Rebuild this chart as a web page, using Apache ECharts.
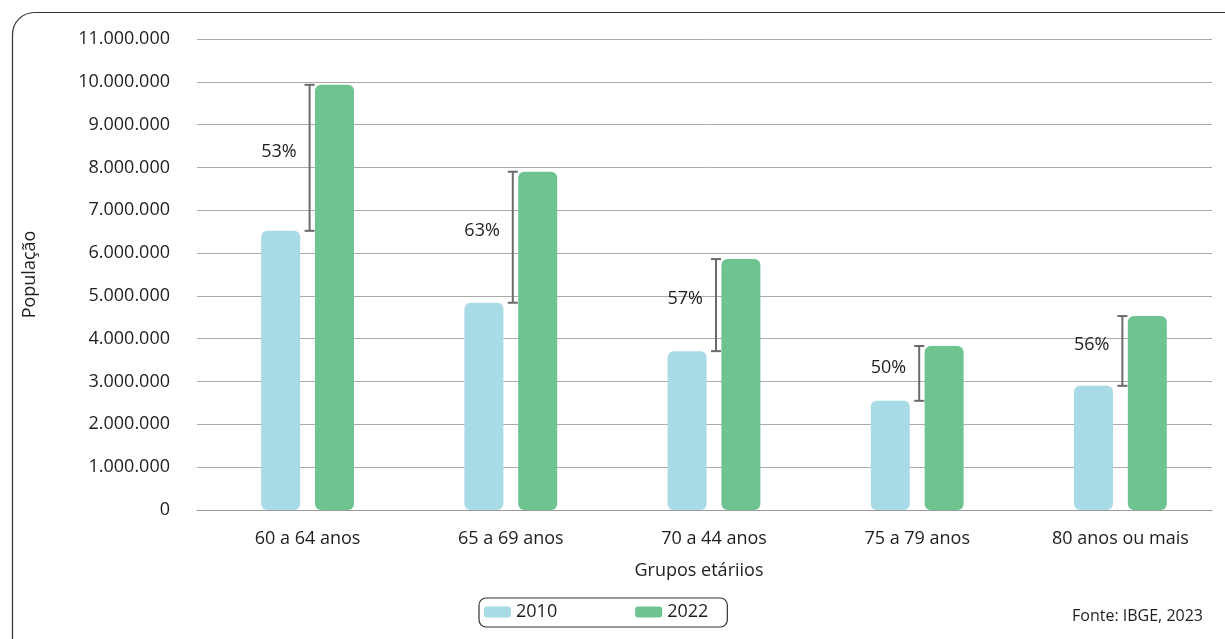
<!DOCTYPE html>
<html><head><meta charset="utf-8">
<script src="https://cdn.jsdelivr.net/npm/echarts@6/dist/echarts.min.js"></script>
<style>html,body{margin:0;padding:0;background:#fff}#c{width:1225px;height:639px}</style>
</head><body><div id="c"></div>
<script>
const categories = ['60 a 64 anos', '65 a 69 anos', '70 a 44 anos', '75 a 79 anos', '80 anos ou mais'];
const values2010 = [6520000, 4840000, 3710000, 2550000, 2900000];
const values2022 = [9930000, 7900000, 5860000, 3830000, 4530000];
const growthLabels = ['53%', '63%', '57%', '50%', '56%'];
const yTicks = { min: 0, max: 11000000, interval: 1000000 };

const FONT = '"Open Sans", sans-serif';
const TXT = '#1e1e1e';
const errData = categories.map((c, i) => [i, values2010[i], values2022[i], growthLabels[i]]);

const chart = echarts.init(document.getElementById('c'));
chart.setOption({
  animation: false,
  textStyle: { fontFamily: FONT, color: TXT },
  graphic: [{
    type: 'rect', left: 10, top: 10, silent: true,
    shape: { x: 0, y: 0, width: 1240, height: 680, r: 22 },
    style: { fill: 'none', stroke: '#333', lineWidth: 1.2 }
  }, {
    type: 'text', right: 22, top: 608,
    style: { text: 'Fonte: IBGE, 2023', font: '16px ' + FONT, fill: TXT }
  }],
  grid: [
    { left: 197, right: 13, top: 39, bottom: 129 },
    { left: 206, right: 3, top: 39, bottom: 129 }
  ],
  legend: {
    top: 598, left: 479,
    data: ['2010', '2022'],
    itemWidth: 27, itemHeight: 11, itemGap: 78,
    borderColor: '#333', borderWidth: 1.2, borderRadius: 7,
    padding: [5, 19, 6, 5],
    textStyle: { fontFamily: FONT, fontSize: 18, color: TXT },
    icon: 'roundRect'
  },
  xAxis: [{
    type: 'category', gridIndex: 0, data: categories,
    name: 'Grupos etáriios', nameLocation: 'middle', nameGap: 52,
    nameTextStyle: { fontFamily: FONT, fontSize: 18, color: TXT, padding: [0, 11, 0, 0] },
    axisLine: { lineStyle: { color: '#999' } },
    axisTick: { show: false },
    axisLabel: { show: false }
  }, {
    type: 'category', gridIndex: 1, data: categories,
    axisLine: { show: false },
    axisTick: { show: false },
    axisLabel: { fontFamily: FONT, fontSize: 18, color: TXT, margin: 20 }
  }],
  yAxis: [{
    type: 'value', gridIndex: 0, min: yTicks.min, max: yTicks.max, interval: yTicks.interval,
    name: 'População', nameLocation: 'middle', nameGap: 158, nameRotate: 90,
    nameTextStyle: { fontFamily: FONT, fontSize: 18, color: TXT },
    axisLine: { show: false }, axisTick: { show: false },
    splitLine: { lineStyle: { color: '#aaa', width: 1 } },
    axisLabel: {
      fontFamily: FONT, fontSize: 18, color: TXT, margin: 27,
      formatter: v => v.toString().replace(/\B(?=(\d{3})+(?!\d))/g, '.')
    }
  }, {
    type: 'value', gridIndex: 1, min: yTicks.min, max: yTicks.max, interval: yTicks.interval,
    show: false, splitLine: { show: false }
  }],
  series: [{
    name: '2010', type: 'bar', data: values2010, xAxisIndex: 1, yAxisIndex: 1,
    barWidth: 39, barGap: '38%',
    itemStyle: { color: '#A8DBE5', borderRadius: 6 }
  }, {
    name: '2022', type: 'bar', data: values2022, xAxisIndex: 1, yAxisIndex: 1,
    barWidth: 39,
    itemStyle: { color: '#6EC490', borderRadius: 6 }
  }, {
    name: 'growth', type: 'custom', data: errData, z: 10, xAxisIndex: 1, yAxisIndex: 1,
    encode: { x: 0, y: [1, 2] },
    renderItem: function (params, api) {
      const i = api.value(0);
      const lo = api.coord([i, api.value(1)]);
      const hi = api.coord([i, api.value(2)]);
      const x = lo[0] + 2;
      const cap = 5;
      const st = { stroke: '#6b6b6b', lineWidth: 2 };
      const lbl = errData[params.dataIndex][3];
      return {
        type: 'group',
        children: [
          { type: 'line', shape: { x1: x, y1: lo[1], x2: x, y2: hi[1] }, style: st },
          { type: 'line', shape: { x1: x - cap, y1: lo[1], x2: x + cap, y2: lo[1] }, style: st },
          { type: 'line', shape: { x1: x - cap, y1: hi[1], x2: x + cap, y2: hi[1] }, style: st },
          { type: 'text', x: x - 13, y: (lo[1] + hi[1]) / 2 - 6,
            style: { text: lbl, font: '18px ' + FONT, fill: TXT, align: 'right', verticalAlign: 'middle' } }
        ]
      };
    }
  }]
});
</script></body></html>
